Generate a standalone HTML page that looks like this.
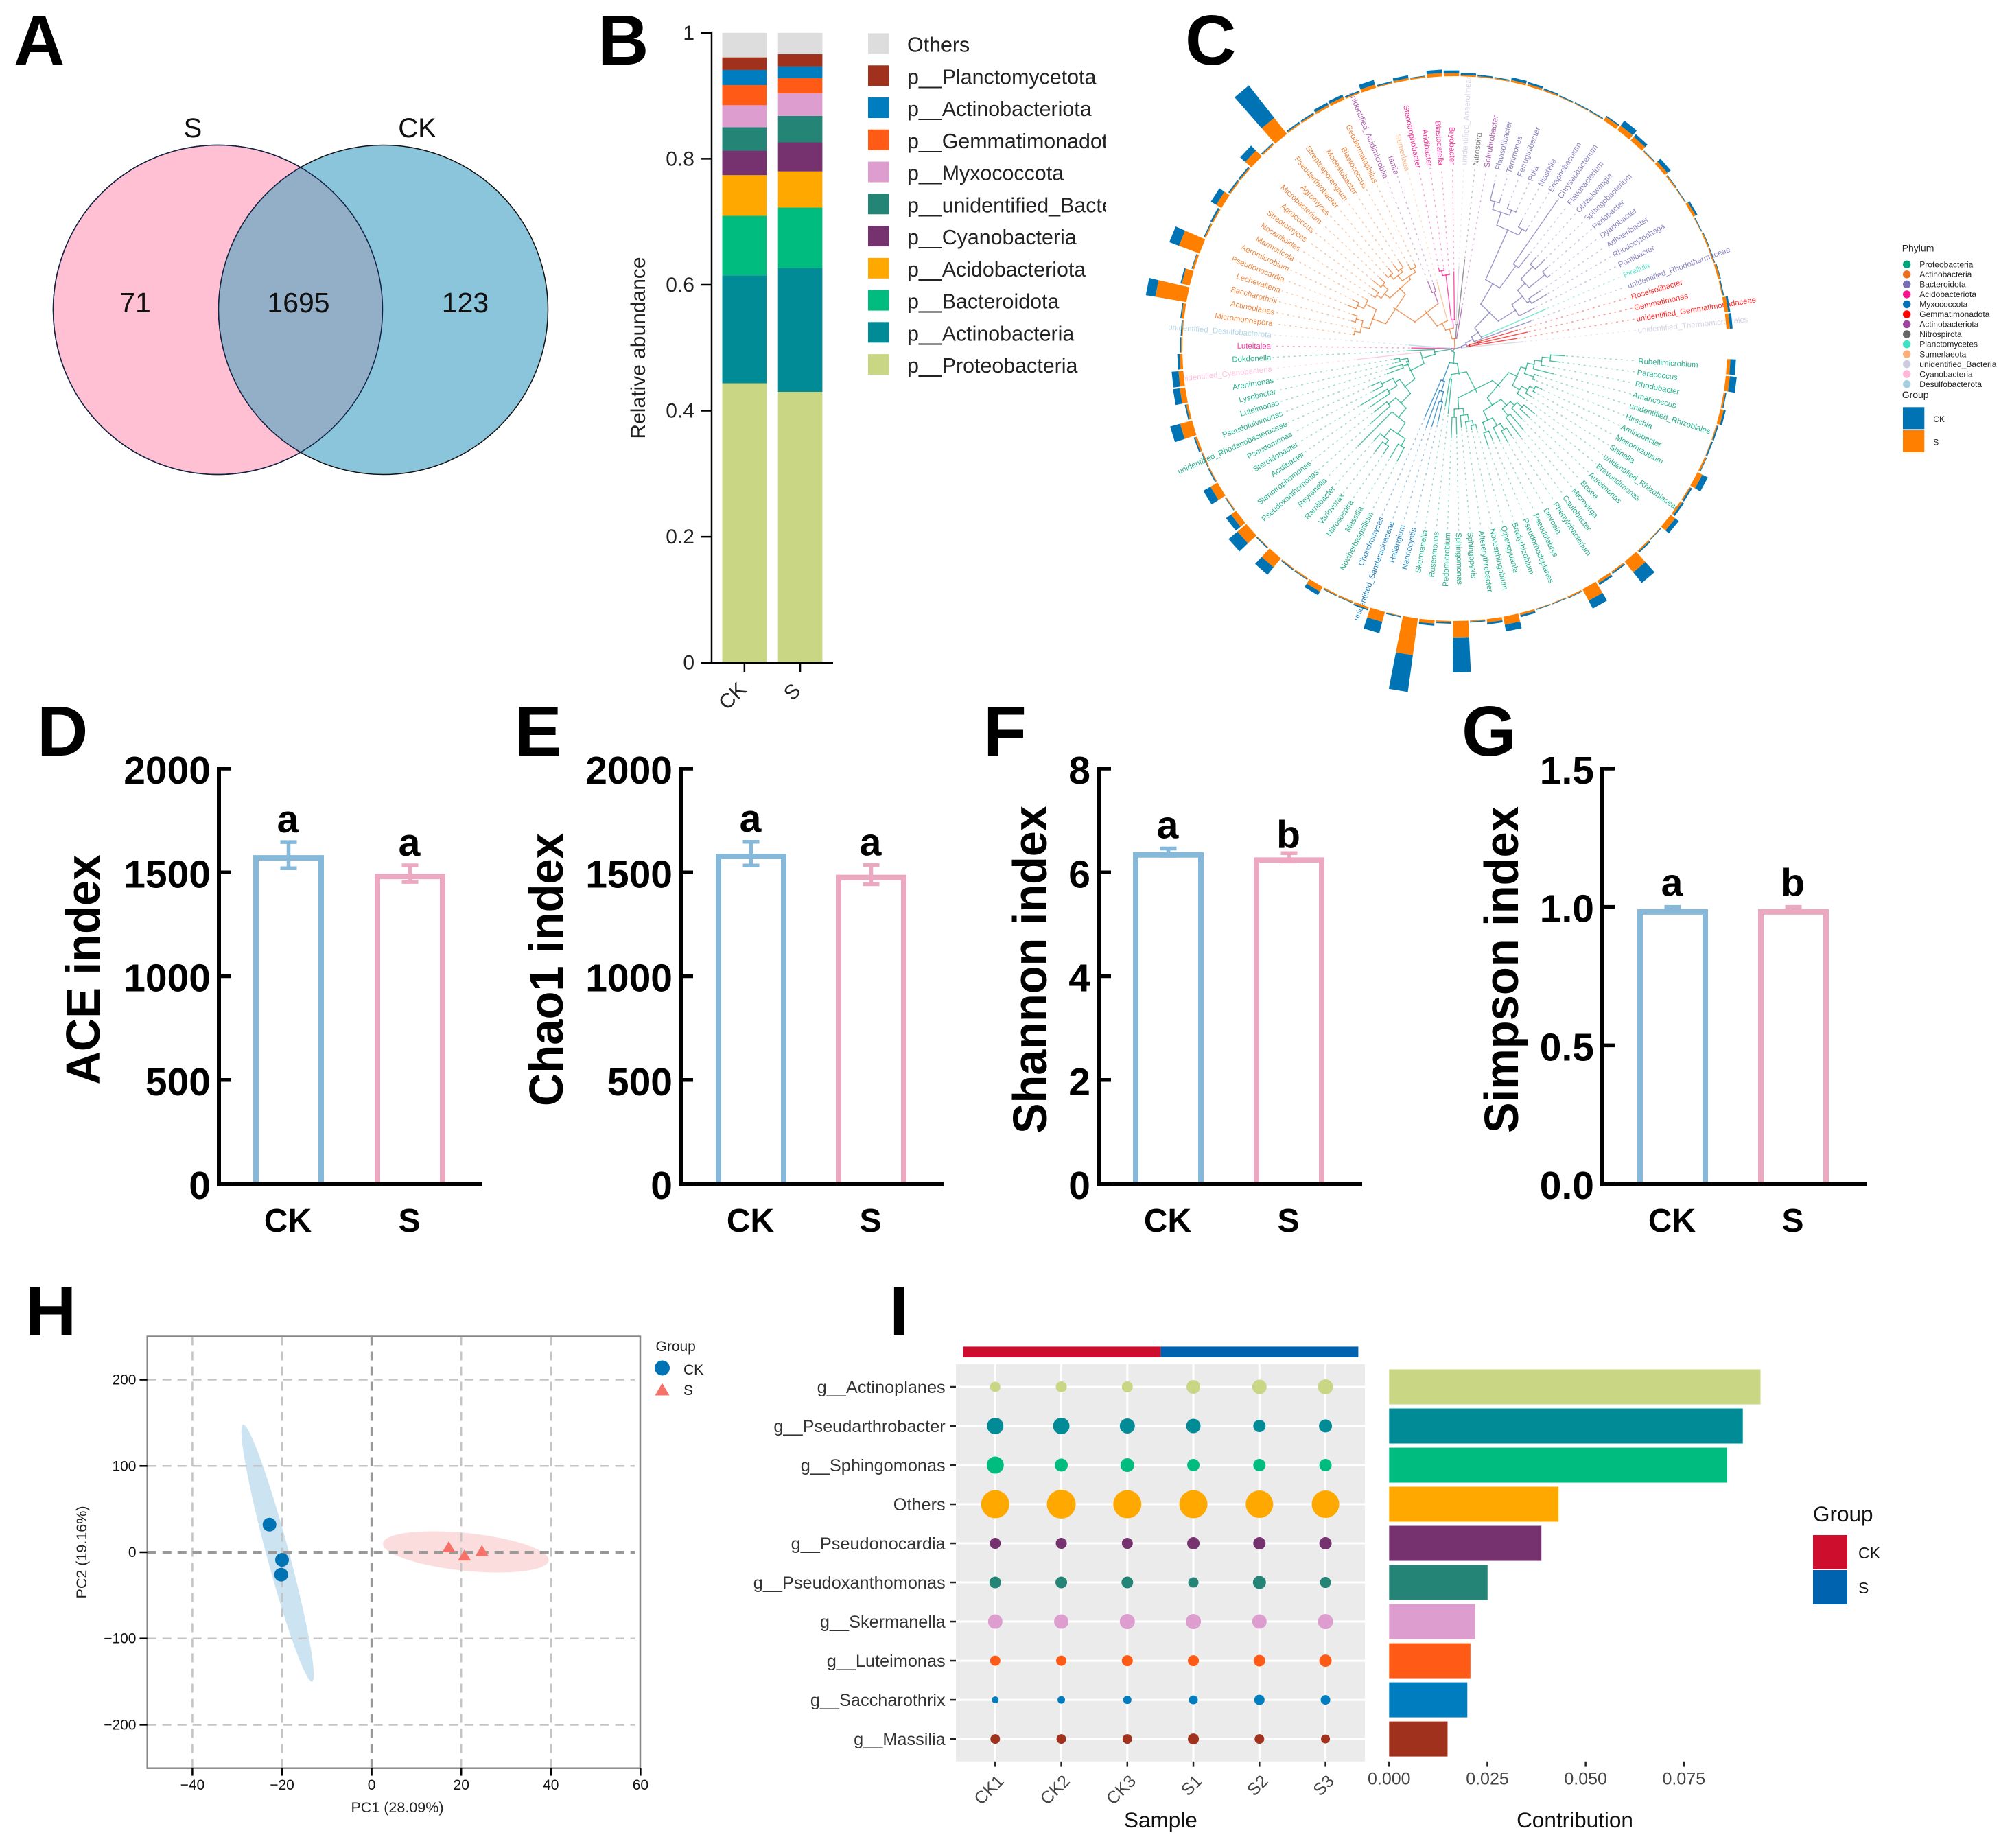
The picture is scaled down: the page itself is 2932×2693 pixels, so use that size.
<!DOCTYPE html>
<html lang="en">
<head>
<meta charset="utf-8">
<title>Microbial community figure</title>
<style>
html,body{margin:0;padding:0;background:#fff;}
svg{display:block;font-family:"Liberation Sans",Arial,sans-serif;}
.panel-letter{font-size:103px;font-weight:700;fill:#000;}
</style>
</head>
<body>
<svg id="figure" xmlns="http://www.w3.org/2000/svg" width="2932" height="2693" viewBox="0 0 2932 2693">
<rect x="0" y="0" width="2932" height="2693" fill="#fff"/>
<defs>
<clipPath id="venn-clip"><circle cx="317.5" cy="451.5" r="240"/></clipPath>
<clipPath id="legend-b-clip"><rect x="1260" y="30" width="351" height="540"/></clipPath>
</defs>

<text class="panel-letter" x="20" y="94">A</text>
<text class="panel-letter" x="871" y="94">B</text>
<text class="panel-letter" x="1727" y="94">C</text>
<text class="panel-letter" x="54" y="1101">D</text>
<text class="panel-letter" x="750" y="1101">E</text>
<text class="panel-letter" x="1433" y="1101">F</text>
<text class="panel-letter" x="2130" y="1101">G</text>
<text class="panel-letter" x="37" y="1946">H</text>
<text class="panel-letter" x="1296" y="1946">I</text>

<g>
<circle cx="317.5" cy="451.5" r="240" fill="#FFC0D3" stroke="#111" stroke-width="1.5"/>
<circle cx="558.5" cy="451.5" r="240" fill="#8BC5DB" stroke="#111" stroke-width="1.5"/>
<circle cx="558.5" cy="451.5" r="240" fill="#93AFC8" stroke="#124" stroke-width="1.5" clip-path="url(#venn-clip)"/>
<circle cx="317.5" cy="451.5" r="240" fill="none" stroke="#124" stroke-width="1.5"/>
<text x="281" y="200" font-size="40" text-anchor="middle" fill="#111">S</text>
<text x="608" y="200" font-size="40" text-anchor="middle" fill="#111">CK</text>
<text x="197" y="455" font-size="41" text-anchor="middle" fill="#111">71</text>
<text x="435" y="455" font-size="41" text-anchor="middle" fill="#111">1695</text>
<text x="678" y="455" font-size="41" text-anchor="middle" fill="#111">123</text>
</g>
</svg>

<script>
/* ---------- panel B data ---------- */
const stackGroups = ['CK', 'S'];
const stackPhyla = ['p__Proteobacteria', 'p__Actinobacteria', 'p__Bacteroidota', 'p__Acidobacteriota', 'p__Cyanobacteria', 'p__unidentified_Bacteria', 'p__Myxococcota', 'p__Gemmatimonadota', 'p__Actinobacteriota', 'p__Planctomycetota', 'Others'];
const stackColors = ['#C9D684', '#008B96', '#00BC7F', '#FFA800', '#75326F', '#248475', '#DE9DCF', '#FF5A16', '#007DBE', '#A0311C', '#DDDDDD'];
const stackCK = [0.4436, 0.1714, 0.0945, 0.0645, 0.039, 0.037, 0.035, 0.032, 0.024, 0.02, 0.039];
const stackS = [0.43, 0.1965, 0.096, 0.0575, 0.046, 0.042, 0.036, 0.024, 0.0185, 0.0195, 0.034];
const stackTicks = ['0', '0.2', '0.4', '0.6', '0.8', '1'];

/* ---------- panel C data ---------- */
const tipLabels = ['Rubellimicrobium','Paracoccus','Rhodobacter','Amaricoccus','unidentified_Rhizobiales','Hirschia','Aminobacter','Mesorhizobium','Shinella','unidentified_Rhizobiaceae','Brevundimonas','Aureimonas','Bosea','Microvirga','Caulobacter','Phenylobacterium','Devosia','Pseudolabrys','Pseudorhodoplanes','Bradyrhizobium','Qipengyuania','Novosphingobium','Altererythrobacter','Sphingopyxis','Sphingomonas','Pedomicrobium','Roseomonas','Skermanella','Nannocystis','Haliangium','unidentified_Sandaracinaceae','Chondromyces','Noviherbaspirillum','Massilia','Nitrosospira','Variovorax','Ramlibacter','Reyranella','Pseudoxanthomonas','Stenotrophomonas','Acidibacter','Steroidobacter','Pseudomonas','unidentified_Rhodanobacteraceae','Pseudofulvimonas','Luteimonas','Lysobacter','Arenimonas','unidentified_Cyanobacteria','Dokdonella','Luteitalea','unidentified_Desulfobacterota','Micromonospora','Actinoplanes','Saccharothrix','Lechevalieria','Pseudonocardia','Aeromicrobium','Marmoricola','Nocardioides','Streptomyces','Agrococcus','Microbacterium','Agromyces','Pseudarthrobacter','Streptosporangium','Modestobacter','Blastococcus','Geodermatophilus','unidentified_Acidimicrobiia','Iamia','Sumerlaea','Stenotrophobacter','Aridibacter','Blastocatella','Bryobacter','unidentified_Anaerolineae','Nitrospira','Solirubrobacter','Flavisolibacter','Terrimonas','Ferruginibacter','Puia','Niastella','Edaphobaculum','Chryseobacterium','Flavobacterium','Ohtaekwangia','Sphingobacterium','Pedobacter','Dyadobacter','Adhaeribacter','Rhodocytophaga','Pontibacter','Pirellula','unidentified_Rhodothermaceae','Roseisolibacter','Gemmatimonas','unidentified_Gemmatimonadaceae','unidentified_Thermomicrobiales'];
const tipPhylum = [0,0,0,0,0,0,0,0,0,0,0,0,0,0,0,0,0,0,0,0,0,0,0,0,0,0,0,0,4,4,4,4,0,0,0,0,0,0,0,0,0,0,0,0,0,0,0,0,11,0,3,12,1,1,1,1,1,1,1,1,1,1,1,1,1,1,1,1,1,6,6,9,3,3,3,3,10,7,6,2,2,2,2,2,2,2,2,2,2,2,2,2,2,2,8,2,5,5,5,10];
const phylumNames = ['Proteobacteria','Actinobacteria','Bacteroidota','Acidobacteriota','Myxococcota','Gemmatimonadota','Actinobacteriota','Nitrospirota','Planctomycetes','Sumerlaeota','unidentified_Bacteria','Cyanobacteria','Desulfobacterota'];
const phylumColors = ['#00A37A','#E8701E','#7570B3','#F5148C','#0072B5','#FF0000','#A046A0','#666666','#40E0C0','#FDB07C','#CCCCE0','#FFB6D9','#A6CEE3'];
const ringS = [5,6,2.5,5,1.5,1,2.5,8,2,3,8.5,1,2,20,2,4,19,2,1,1,3,12,5,1.5,24,2,5,54,1,15,3,2,2,8,2,1.5,17,1,17,9,1.5,12,1.5,1.5,3,18,3,8,7,4,2,1.5,4,46,12,3,32,2,2,9,2,2,12,2,30,2,2,3,4,2,5,1.5,3,2,5,4.5,2,1.5,1.5,3,3,2,1,1,1,6,8,7,1.5,5,2,1,4,1,2,1.5,3,1.5,5,5];
const ringCK = [8,10,1.5,3,2,2,1,9,2.5,3,6.5,1,2,20,2,3,13,1,1,1,3,10,3,1.5,51,2,3,54,1.5,17,2,1,1,6,1,1.5,14,1.5,17,9,1,12,1.5,1,2,15,2,10,10,3.5,2,1.5,1.5,14,2,1,15,1.5,2.5,9,2,2,10,1.5,60,2,2,4,4,2,7,2,4,1,5,4,3,2,1.5,4,3,2,1.5,1.5,1.5,2,9,5,1,6,1,1,3,1,1,1,1,1.5,3,4];
const treeShape = [0,
  [6,
    [22,
      [38,
        [72,
          [86,
            [100,[108,[118,[128,[140,160,155],135],148],[122,128,125]],[112,[122,[130,140,135],132],126]],
            [100,[112,[120,[130,150,148],142],[125,155,160]],[115,[128,[138,152,158],150],[130,145,150]]]
          ],
          [88,[98,[108,[115,122,120],118],115],[100,125,130]]
        ],
        [45,95,85]
      ],
      [50,[65,[80,112,118],122],108]
    ],
    [30,
      [50,
        [73,
          [92,
            [112,[130,[150,[162,184,185],[165,[172,186,189],179]],200],[126,165,150]],
            [100,[115,149,160],[118,134,134]]
          ],
          [70,[80,105,100],[82,89,90]]
        ],
        143
      ],
      70
    ]
  ],
  [5,63,67],
  [15,
    [30,
      [42,
        [70,
          [107,
            [128,[140,[148,150,148],[150,156,158]],[145,[155,168,165],150]],
            [120,[130,[138,145,150],[140,155,150]],[125,[135,[142,148,152],[140,152,150]],[132,140,138]]]
          ],
          [88,105,100]
        ],
        100
      ],
      [42,[108,[115,120,118],110],112]
    ],
    [35,120,130],
    62
  ],
  [10,
    [18,
      [30,
        [42,
          [60,[75,[110,[190,[210,[222,247,230],[218,225,220]],[200,210,205]],[150,262,175]],[90,[105,[125,[140,[165,178,185],[170,180,175]],[130,150,155]],130]]]],
          145
        ],
        118
      ],
      [22,[35,95,108],92]
    ],
    100
  ]
];

/* ---------- panels D-G data ---------- */
const alphaGroups = ['CK', 'S'];
const aceValues = [1583, 1494];
const aceErrors = [63, 40];
const aceLetters = ['a', 'a'];
const aceTicks = [0, 500, 1000, 1500, 2000];
const chaoValues = [1590, 1489];
const chaoErrors = [57, 46];
const chaoLetters = ['a', 'a'];
const chaoTicks = [0, 500, 1000, 1500, 2000];
const shannonValues = [6.39, 6.29];
const shannonErrors = [0.07, 0.08];
const shannonLetters = ['a', 'b'];
const shannonTicks = [0, 2, 4, 6, 8];
const simpsonValues = [0.992, 0.992];
const simpsonErrors = [0.008, 0.008];
const simpsonLetters = ['a', 'b'];
const simpsonTicks = ['0.0', '0.5', '1.0', '1.5'];

/* ---------- panel H data ---------- */
const pcaCKx = [-22.8, -20, -20.2];
const pcaCKy = [32, -8.8, -26];
const pcaSx = [17.2, 20.7, 24.6];
const pcaSy = [6.5, -3.3, 2];
const ellipseCKTips = [-28.7, 148, -13.3, -150];
const ellipseSTips = [2.5, 10.3, 39.5, -9.5];
const pcaXTicks = [-40, -20, 0, 20, 40, 60];
const pcaYTicks = [200, 100, 0, -100, -200];

/* ---------- panel I data ---------- */
const bubbleSamples = ['CK1', 'CK2', 'CK3', 'S1', 'S2', 'S3'];
const bubbleGenera = ['g__Actinoplanes', 'g__Pseudarthrobacter', 'g__Sphingomonas', 'Others', 'g__Pseudonocardia', 'g__Pseudoxanthomonas', 'g__Skermanella', 'g__Luteimonas', 'g__Saccharothrix', 'g__Massilia'];
const bubbleColors = ['#C9D684', '#008B96', '#00BC7F', '#FFA800', '#75326F', '#248475', '#DE9DCF', '#FF5A16', '#007DBE', '#A0311C'];
const bubbleSizes = [
  [7.5, 8, 8, 10, 10.5, 11],
  [12, 12, 11, 10.5, 9, 9.5],
  [12.5, 9.5, 10, 9, 9, 9],
  [20.5, 21, 20.5, 20.5, 20, 20],
  [8, 8, 8, 9, 9, 9],
  [8.5, 8.5, 8.5, 7.5, 9.5, 8],
  [10.5, 10.5, 11, 11, 10.5, 11],
  [7.5, 7.5, 8, 8, 8.5, 9],
  [5, 5.5, 6, 6.5, 7.5, 7],
  [7, 7, 7, 8, 7, 6.5]
];
const contribution = [0.0945, 0.09, 0.086, 0.0431, 0.03875, 0.02505, 0.0219, 0.0207, 0.0199, 0.01487];
const contributionTicks = ['0.000', '0.025', '0.050', '0.075'];

/* ---------- helpers ---------- */
const svg = document.getElementById('figure');
const NS = 'http://www.w3.org/2000/svg';
function mk(tag, attrs, parent) {
  const el = document.createElementNS(NS, tag);
  for (const k in attrs) el.setAttribute(k, attrs[k]);
  (parent || svg).appendChild(el);
  return el;
}
function txt(str, attrs, parent) {
  const el = mk('text', attrs, parent);
  el.textContent = str;
  return el;
}

/* ---------- panel B ---------- */
(function () {
  const g = mk('g', {});
  
  
  const yB = v => 965.7 - v * 917.9;
  const barX = [1052.5, 1133.7];
  const barW = 64.7;
  const series = [stackCK, stackS];
  series.forEach((vals, b) => {
    let cum = 0;
    vals.forEach((v, i) => {
      const r = mk('rect', { x: barX[b], y: yB(cum + v), width: barW, height: yB(cum) - yB(cum + v), fill: stackColors[i] }, g);
      
      
      cum += v;
    });
  });
  let a = mk('line', { x1: 1037, y1: 47, x2: 1037, y2: 966, stroke: '#000', 'stroke-width': 2.5 }, g);
  
  
  a = mk('line', { x1: 1021, y1: 966, x2: 1214, y2: 966, stroke: '#000', 'stroke-width': 2.5 }, g);
  
  
  stackTicks.forEach(t => {
    const y = yB(parseFloat(t));
    const l = mk('line', { x1: 1021, y1: y, x2: 1037, y2: y, stroke: '#000', 'stroke-width': 2.5 }, g);
    
    
    const s = txt(t, { x: 1012, y: y + 10, 'font-size': 30, 'text-anchor': 'end', fill: '#222' }, g);
    
    
  });
  stackGroups.forEach((n, b) => {
    const cx = barX[b] + barW / 2;
    const l = mk('line', { x1: cx, y1: 966, x2: cx, y2: 980, stroke: '#000', 'stroke-width': 2.5 }, g);
    
    
    const s = txt(n, { x: 0, y: 0, 'font-size': 30, 'text-anchor': 'middle', dy: '0.35em', fill: '#222', transform: 'translate(' + (cx - (b === 0 ? 18 : 12)) + ',' + (b === 0 ? 1014 : 1008) + ') rotate(-45)' }, g);
    
    
  });
  const t = txt('Relative abundance', { x: 0, y: 0, 'font-size': 30, 'text-anchor': 'middle', fill: '#222', transform: 'translate(940,507) rotate(-90)' }, g);
  
  
  const leg = mk('g', { 'clip-path': 'url(#legend-b-clip)' }, g);
  
  
  const legendTop = 63.5, legendStep = 46.76;
  for (let i = stackPhyla.length - 1, row = 0; i >= 0; i--, row++) {
    const y = legendTop + row * legendStep;
    const r = mk('rect', { x: 1265, y: y - 15, width: 30.5, height: 30, fill: stackColors[i] }, leg);
    
    
    const s = txt(stackPhyla[i], { x: 1322, y: y + 12, 'font-size': 30.4, fill: '#222' }, leg);
    
    
  }
})();

/* ---------- panel C ---------- */
(function () {
  const cx = 2120, cy = 508, ringR = 397, labelR = 268;
  const angleOf = i => 3.8 + 3.54 * i;
  const pol = (r, a) => {
    const t = a * Math.PI / 180;
    return [cx + r * Math.cos(t), cy + r * Math.sin(t)];
  };
  const g = mk('g', {});
  
  
  let tipIndex = 0;
  const branchG = mk('g', {}, g);
  
  
  function branch(x1, y1, x2, y2, color) {
    const l = mk('line', { x1: x1, y1: y1, x2: x2, y2: y2, stroke: color, 'stroke-width': 1.4, 'stroke-linecap': 'round', opacity: 0.7 }, branchG);
    
    
  }
  function walk(node) {
    if (typeof node === 'number') {
      const i = tipIndex++;
      return { a: angleOf(i), r: node, counts: { [tipPhylum[i]]: 1 }, leaf: true, tip: i };
    }
    const r = node[0];
    const kids = node.slice(1).map(walk);
    const counts = {};
    kids.forEach(k => { for (const p in k.counts) counts[p] = (counts[p] || 0) + k.counts[p]; });
    let best = 0, bestN = -1;
    for (const p in counts) if (counts[p] > bestN) { bestN = counts[p]; best = p; }
    const color = phylumColors[best];
    const first = kids[0], last = kids[kids.length - 1];
    const a = (first.a + last.a) / 2;
    kids.forEach(k => {
      const p1 = pol(r, k.a), p2 = pol(k.r, k.a);
      let kidBest = 0, kidN = -1;
      for (const p in k.counts) if (k.counts[p] > kidN) { kidN = k.counts[p]; kidBest = p; }
      branch(p1[0], p1[1], p2[0], p2[1], phylumColors[kidBest]);
      if (k.leaf) {
        const q1 = pol(k.r + 3, k.a), q2 = pol(labelR - 3, k.a);
        const d = mk('line', { x1: q1[0], y1: q1[1], x2: q2[0], y2: q2[1], stroke: phylumColors[tipPhylum[k.tip]], 'stroke-width': 1.6, 'stroke-dasharray': '1.5 6.5', 'stroke-linecap': 'round', opacity: 0.38 }, branchG);
        
        
      }
    });
    const c1 = pol(r, first.a), c2 = pol(r, last.a);
    if (r > 0) branch(c1[0], c1[1], c2[0], c2[1], color);
    return { a: a, r: r, counts: counts, leaf: false };
  }
  walk(treeShape);

  const labelG = mk('g', {}, g);
  
  
  tipLabels.forEach((name, i) => {
    const a = angleOf(i);
    const p = pol(labelR, a);
    const flip = a > 90 && a < 270;
    const t = txt(name, { x: 0, y: 0, dy: 4, 'font-size': 11.4, fill: phylumColors[tipPhylum[i]], opacity: 0.85, 'text-anchor': flip ? 'end' : 'start', transform: 'translate(' + p[0] + ',' + p[1] + ') rotate(' + (flip ? a - 180 : a) + ')' }, labelG);
    
    
  });

  const wedge = (r0, r1, a) => {
    const h = 1.6;
    const p = [pol(r0, a - h), pol(r1, a - h), pol(r1, a + h), pol(r0, a + h)];
    return 'M' + p.map(q => q[0].toFixed(1) + ',' + q[1].toFixed(1)).join('L') + 'Z';
  };
  const ringG = mk('g', {}, g);
  
  
  tipLabels.forEach((name, i) => {
    const a = angleOf(i);
    const s = mk('path', { d: wedge(ringR, ringR + ringS[i], a), fill: '#FF8000' }, ringG);
    
    
    const c = mk('path', { d: wedge(ringR + ringS[i], ringR + ringS[i] + ringCK[i], a), fill: '#0073B5' }, ringG);
    
    
  });

  const leg = mk('g', {}, g);
  
  
  let t = txt('Phylum', { x: 2771.7, y: 366.6, 'font-size': 14, fill: '#222' }, leg);
  
  
  phylumNames.forEach((n, i) => {
    const y = 385.3 + i * 14.53;
    const d = mk('circle', { cx: 2778.7, cy: y, r: 5.7, fill: phylumColors[i] }, leg);
    
    
    const s = txt(n, { x: 2797.3, y: y + 4.2, 'font-size': 12, fill: '#222' }, leg);
    
    
  });
  t = txt('Group', { x: 2771.7, y: 580, 'font-size': 14, fill: '#222' }, leg);
  
  
  let r = mk('rect', { x: 2773, y: 593.3, width: 31.3, height: 32, fill: '#0073B5' }, leg);
  
  
  r = mk('rect', { x: 2773, y: 627, width: 31.3, height: 32, fill: '#FF8000' }, leg);
  
  
  t = txt('CK', { x: 2817.3, y: 615, 'font-size': 12, fill: '#222' }, leg);
  
  
  t = txt('S', { x: 2817.3, y: 648.3, 'font-size': 12, fill: '#222' }, leg);
  
  
})();

/* ---------- panels D-G ---------- */
function alphaPanel(cfg) {
  const g = mk('g', {});
  
  
  const y0 = 1725, yTop = 1120;
  const y = v => y0 - (v / cfg.max) * (y0 - yTop);
  const colors = ['#85B8D9', '#EBA8C0'];
  cfg.values.forEach((v, i) => {
    const x0 = cfg.barX[i], x1 = x0 + 103, top = y(v);
    const b = mk('path', { d: 'M' + (x0 + 4) + ',' + y0 + 'V' + (top + 4) + 'H' + (x1 - 4) + 'V' + y0, fill: 'none', stroke: colors[i], 'stroke-width': 8 }, g);
    
    
    const c = x0 + 51.5;
    const hi = y(v + cfg.errors[i]), lo = y(v - cfg.errors[i]);
    const e = mk('path', { d: 'M' + c + ',' + lo + 'V' + hi + 'M' + (c - 12) + ',' + hi + 'H' + (c + 12) + 'M' + (c - 12) + ',' + lo + 'H' + (c + 12), fill: 'none', stroke: colors[i], 'stroke-width': 5.5 }, g);
    
    
    const l = txt(cfg.letters[i], { x: c - 1, y: hi - cfg.gaps[i], 'font-size': 57, 'font-weight': 700, 'text-anchor': 'middle', fill: '#000' }, g);
    
    
    const n = txt(alphaGroups[i], { x: c - 1, y: 1795, 'font-size': 48, 'font-weight': 700, 'text-anchor': 'middle', fill: '#000' }, g);
    
    
  });
  let a = mk('line', { x1: cfg.axisX, y1: 1117, x2: cfg.axisX, y2: y0 + 3, stroke: '#000', 'stroke-width': 6 }, g);
  
  
  a = mk('line', { x1: cfg.axisX - 3, y1: y0 + 0.5, x2: cfg.axisEnd, y2: y0 + 0.5, stroke: '#000', 'stroke-width': 6 }, g);
  
  
  cfg.ticks.forEach(t => {
    const py = y(parseFloat(t));
    const l = mk('line', { x1: cfg.axisX, y1: py, x2: cfg.axisX + 18, y2: py, stroke: '#000', 'stroke-width': 5.5 }, g);
    
    
    const s = txt(String(t), { x: cfg.axisX - 12, y: py + 22, 'font-size': 57, 'font-weight': 700, 'text-anchor': 'end', fill: '#000' }, g);
    
    
  });
  const title = txt(cfg.title, { x: 0, y: 0, 'font-size': 70, 'font-weight': 700, 'text-anchor': 'middle', fill: '#000', textLength: cfg.titleLen, lengthAdjust: 'spacingAndGlyphs', transform: 'translate(' + cfg.titleX + ',1413) rotate(-90)' }, g);
  
  
}
alphaPanel({ name: 'ace-bar-chart', title: 'ACE index', titleLen: 335, titleX: 145, axisX: 319, axisEnd: 703, barX: [369, 546], max: 2000, values: aceValues, errors: aceErrors, letters: aceLetters, ticks: aceTicks, gaps: [14, 14] });
alphaPanel({ name: 'chao1-bar-chart', title: 'Chao1 index', titleLen: 398, titleX: 820, axisX: 992, axisEnd: 1375, barX: [1043, 1218], max: 2000, values: chaoValues, errors: chaoErrors, letters: chaoLetters, ticks: chaoTicks, gaps: [15, 14] });
alphaPanel({ name: 'shannon-bar-chart', title: 'Shannon index', titleLen: 478, titleX: 1525, axisX: 1601, axisEnd: 1985, barX: [1651, 1827], max: 8, values: shannonValues, errors: shannonErrors, letters: shannonLetters, ticks: shannonTicks, gaps: [15, 8] });
alphaPanel({ name: 'simpson-bar-chart', title: 'Simpson index', titleLen: 476, titleX: 2212, axisX: 2335, axisEnd: 2720, barX: [2386, 2562], max: 1.5, values: simpsonValues, errors: simpsonErrors, letters: simpsonLetters, ticks: simpsonTicks, gaps: [16, 16] });

/* ---------- panel H ---------- */
(function () {
  const g = mk('g', {});
  
  
  const xH = v => 541.6 + v * 6.53;
  const yH = v => 2262 - v * 1.2572;
  const left = 214.7, right = 933, top = 1947.5, bottom = 2576.7;
  function ell(tips, minor, fill, name) {
    const x1 = xH(tips[0]), y1 = yH(tips[1]), x2 = xH(tips[2]), y2 = yH(tips[3]);
    const mx = (x1 + x2) / 2, my = (y1 + y2) / 2;
    const major = Math.hypot(x2 - x1, y2 - y1) / 2;
    const ang = Math.atan2(y2 - y1, x2 - x1) * 180 / Math.PI;
    const e = mk('ellipse', { cx: mx, cy: my, rx: major, ry: minor, fill: fill, transform: 'rotate(' + ang + ' ' + mx + ' ' + my + ')' }, g);
    
    
  }
  ell(ellipseCKTips, 16.4, '#CCE3F1', 'confidence-ellipse-ck');
  ell(ellipseSTips, 27.5, '#FBDDDD', 'confidence-ellipse-s');
  pcaXTicks.forEach(v => {
    if (v === 60) return;
    const x = xH(v);
    const l = mk('line', { x1: x, y1: top, x2: x, y2: bottom, stroke: v === 0 ? '#999' : '#C4C4C4', 'stroke-width': v === 0 ? 3.5 : 2.5, 'stroke-dasharray': '13 9' }, g);
    
    
  });
  pcaYTicks.forEach(v => {
    const y = yH(v);
    const l = mk('line', { x1: left, y1: y, x2: right - 8, y2: y, stroke: v === 0 ? '#999' : '#C4C4C4', 'stroke-width': v === 0 ? 4 : 2.5, 'stroke-dasharray': '13 9' }, g);
    
    
  });
  const frame = mk('rect', { x: left, y: top, width: right - left, height: bottom - top, fill: 'none', stroke: '#888', 'stroke-width': 2.5 }, g);
  
  
  pcaCKx.forEach((v, i) => {
    const c = mk('circle', { cx: xH(v), cy: yH(pcaCKy[i]), r: 10, fill: '#0073B5' }, g);
    
    
  });
  const tri = (x, y, w, h) => 'M' + x + ',' + (y - h / 2) + 'L' + (x + w / 2) + ',' + (y + h / 2) + 'L' + (x - w / 2) + ',' + (y + h / 2) + 'Z';
  pcaSx.forEach((v, i) => {
    const t = mk('path', { d: tri(xH(v), yH(pcaSy[i]), 19, 16), fill: '#F87169' }, g);
    
    
  });
  pcaXTicks.forEach(v => {
    const x = xH(v);
    const l = mk('line', { x1: x, y1: bottom, x2: x, y2: 2587.6, stroke: '#000', 'stroke-width': 2.5 }, g);
    
    
    const s = txt(String(v).replace('-', '\u2212'), { x: x, y: 2608, 'font-size': 21, 'text-anchor': 'middle', fill: '#111' }, g);
    
    
  });
  pcaYTicks.forEach(v => {
    const y = yH(v);
    const l = mk('line', { x1: 203.4, y1: y, x2: left, y2: y, stroke: '#000', 'stroke-width': 2.5 }, g);
    
    
    const s = txt(String(v).replace('-', '\u2212'), { x: 198.5, y: y + 7, 'font-size': 21, 'text-anchor': 'end', fill: '#111' }, g);
    
    
  });
  let t = txt('PC1 (28.09%)', { x: 579, y: 2641, 'font-size': 21.5, 'text-anchor': 'middle', fill: '#222' }, g);
  
  
  t = txt('PC2 (19.16%)', { x: 0, y: 0, 'font-size': 21.5, 'text-anchor': 'middle', fill: '#222', transform: 'translate(126,2262) rotate(-90)' }, g);
  
  
  t = txt('Group', { x: 955.5, y: 1969, 'font-size': 21, fill: '#222' }, g);
  
  
  let m = mk('circle', { cx: 965, cy: 1993.5, r: 11, fill: '#0073B5' }, g);
  
  
  m = mk('path', { d: tri(965, 2024.5, 21, 18), fill: '#F87169' }, g);
  
  
  t = txt('CK', { x: 996, y: 2003, 'font-size': 21, fill: '#222' }, g);
  
  
  t = txt('S', { x: 996, y: 2033, 'font-size': 21, fill: '#222' }, g);
  
  
})();

/* ---------- panel I ---------- */
(function () {
  const g = mk('g', {});
  
  
  const xS = i => 1450.3 + i * 96.25;
  const yG = i => 2021 + i * 57.01;
  const xC = v => 2024.3 + v * 5727;
  let r = mk('rect', { x: 1403.4, y: 1962.4, width: 288, height: 15.6, fill: '#CE0E2D' }, g);
  
  
  r = mk('rect', { x: 1691.4, y: 1962.4, width: 288, height: 15.6, fill: '#0063B0' }, g);
  
  
  r = mk('rect', { x: 1393, y: 1987.8, width: 596, height: 579, fill: '#EBEBEB' }, g);
  
  
  bubbleSamples.forEach((n, i) => {
    const x = xS(i);
    const l = mk('line', { x1: x, y1: 1987.8, x2: x, y2: 2566.8, stroke: '#fff', 'stroke-width': 3 }, g);
    
    
    const k = mk('line', { x1: x, y1: 2566.8, x2: x, y2: 2574.6, stroke: '#222', 'stroke-width': 2.5 }, g);
    
    
    const s = txt(n, { x: 0, y: 0, 'font-size': 25, 'text-anchor': 'end', fill: '#444', transform: 'translate(' + (x + 14) + ',2597) rotate(-45)' }, g);
    
    
  });
  bubbleGenera.forEach((n, i) => {
    const y = yG(i);
    const l = mk('line', { x1: 1393, y1: y, x2: 1989, y2: y, stroke: '#fff', 'stroke-width': 3 }, g);
    
    
    const k = mk('line', { x1: 1385, y1: y, x2: 1393, y2: y, stroke: '#222', 'stroke-width': 2.5 }, g);
    
    
    const s = txt(n, { x: 1377.7, y: y + 9, 'font-size': 25.3, 'text-anchor': 'end', fill: '#333' }, g);
    
    
  });
  bubbleSizes.forEach((row, i) => {
    row.forEach((v, j) => {
      const c = mk('circle', { cx: xS(j), cy: yG(i), r: v, fill: bubbleColors[i] }, g);
      
      
    });
  });
  contribution.forEach((v, i) => {
    const b = mk('rect', { x: xC(0), y: yG(i) - 25.5, width: xC(v) - xC(0), height: 51, fill: bubbleColors[i] }, g);
    
    
  });
  contributionTicks.forEach(t => {
    const x = xC(parseFloat(t));
    const k = mk('line', { x1: x, y1: 2566.8, x2: x, y2: 2574.6, stroke: '#222', 'stroke-width': 2.5 }, g);
    
    
    const s = txt(t, { x: x, y: 2600.6, 'font-size': 25, 'text-anchor': 'middle', fill: '#444' }, g);
    
    
  });
  let t = txt('Sample', { x: 1691.4, y: 2662.8, 'font-size': 31.5, 'text-anchor': 'middle', fill: '#111' }, g);
  
  
  t = txt('Contribution', { x: 2295, y: 2662.8, 'font-size': 31.5, 'text-anchor': 'middle', fill: '#111' }, g);
  
  
  t = txt('Group', { x: 2642, y: 2217, 'font-size': 31.5, fill: '#111' }, g);
  
  
  r = mk('rect', { x: 2642, y: 2237, width: 50, height: 50, fill: '#CE0E2D' }, g);
  
  
  r = mk('rect', { x: 2642, y: 2288, width: 50, height: 50, fill: '#0063B0' }, g);
  
  
  t = txt('CK', { x: 2708, y: 2271, 'font-size': 23, fill: '#111' }, g);
  
  
  t = txt('S', { x: 2708, y: 2322, 'font-size': 23, fill: '#111' }, g);
  
  
})();
</script>
</body>
</html>
